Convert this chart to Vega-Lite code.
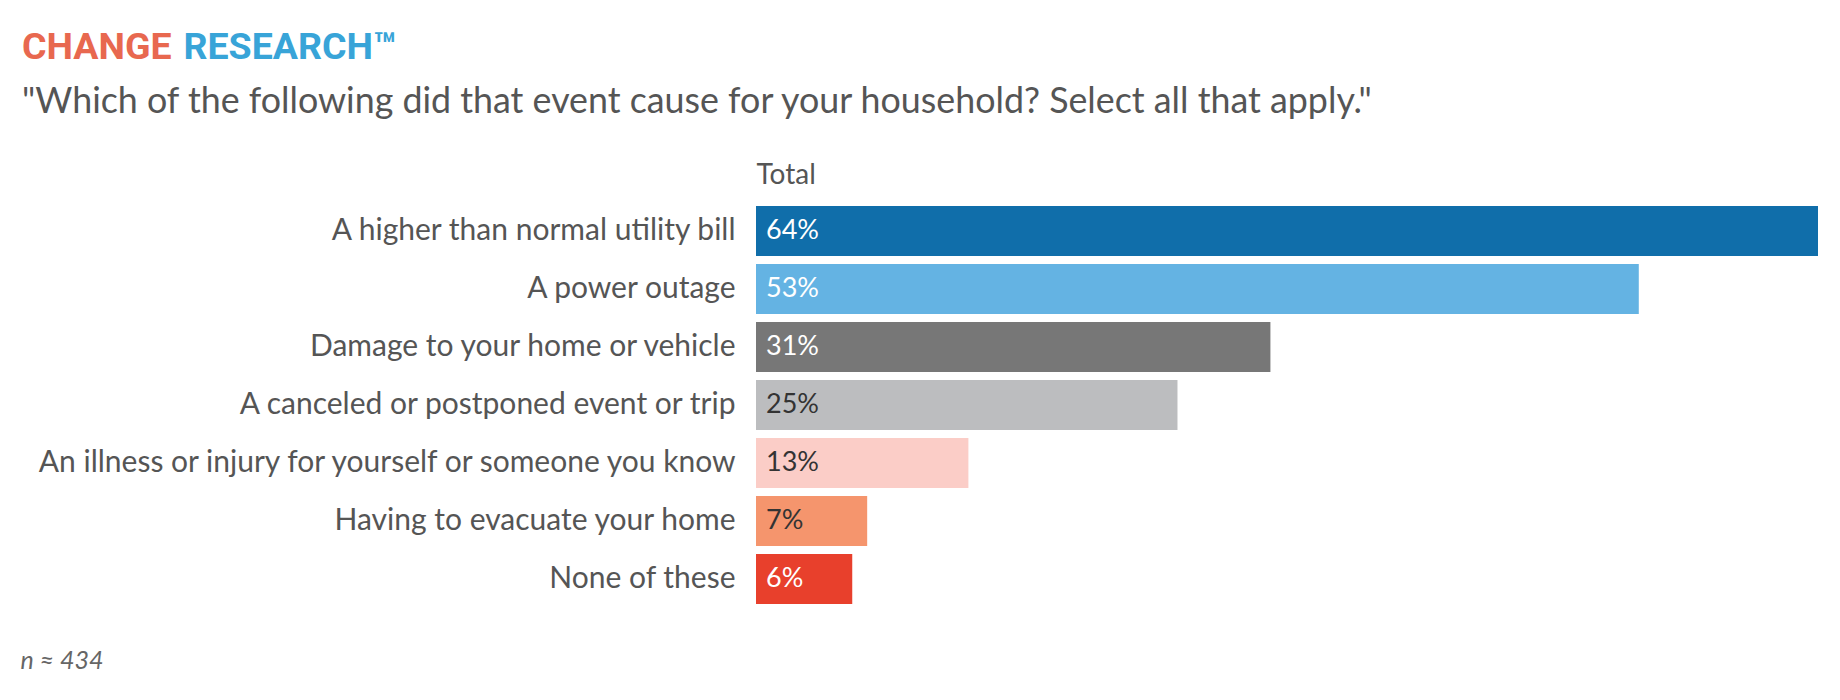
{
  "$schema": "https://vega.github.io/schema/vega-lite/v6.json",
  "autosize": {"type": "none"},
  "width": 1062,
  "height": 406,
  "padding": {"left": 756, "top": 202, "right": 22, "bottom": 92},
  "background": "white",
  "title": {
    "text": "CHANGE",
    "subtitle": "\"Which of the following did that event cause for your household? Select all that apply.\"",
    "anchor": "start",
    "frame": "group",
    "dx": -734,
    "dy": 91.7,
    "offset": 0,
    "font": "Roboto",
    "fontSize": 37.5,
    "fontWeight": "bold",
    "color": "#E8684F",
    "subtitleFont": "Lato",
    "subtitleFontSize": 35.8,
    "subtitleColor": "#555555",
    "subtitlePadding": 18
  },
  "data": {
    "values": [
      {"cause": "A higher than normal utility bill", "pct": 0.64},
      {"cause": "A power outage", "pct": 0.532},
      {"cause": "Damage to your home or vehicle", "pct": 0.31},
      {"cause": "A canceled or postponed event or trip", "pct": 0.254},
      {"cause": "An illness or injury for yourself or someone you know", "pct": 0.128},
      {"cause": "Having to evacuate your home", "pct": 0.067},
      {"cause": "None of these", "pct": 0.058}
    ]
  },
  "encoding": {
    "y": {
      "field": "cause",
      "type": "nominal",
      "sort": null,
      "scale": {"paddingInner": 0.14, "paddingOuter": 0.07},
      "axis": {
        "title": "RESEARCH™",
        "titleX": -573,
        "titleY": -144,
        "titleAngle": 0,
        "titleAlign": "left",
        "titleBaseline": "alphabetic",
        "titleFont": "Roboto",
        "titleFontSize": 37.5,
        "titleFontWeight": "bold",
        "titleColor": "#38A4D8",
        "labelFont": "Lato",
        "labelFontSize": 30,
        "labelColor": "#555555",
        "labelPadding": 21,
        "labelLimit": 0,
        "ticks": false,
        "domain": false,
        "grid": false
      }
    }
  },
  "layer": [
    {
      "mark": {"type": "bar"},
      "encoding": {
        "x": {
          "field": "pct",
          "type": "quantitative",
          "scale": {"domain": [0, 0.64], "nice": false},
          "axis": {
            "orient": "top",
            "title": "Total",
            "titleFont": "Lato",
            "titleFontSize": 28,
            "titleFontWeight": "normal",
            "titleColor": "#555555",
            "titleAnchor": "start",
            "titleAlign": "left",
            "titleBaseline": "alphabetic",
            "titleX": 0,
            "titleY": -19,
            "labels": false,
            "ticks": false,
            "domain": false,
            "grid": false
          }
        },
        "color": {
          "field": "cause",
          "type": "nominal",
          "sort": null,
          "legend": null,
          "scale": {
            "domain": [
              "A higher than normal utility bill",
              "A power outage",
              "Damage to your home or vehicle",
              "A canceled or postponed event or trip",
              "An illness or injury for yourself or someone you know",
              "Having to evacuate your home",
              "None of these"
            ],
            "range": ["#106EAA", "#64B3E3", "#777777", "#BCBDBF", "#FBCDC7", "#F5956D", "#E8402C"]
          }
        }
      }
    },
    {
      "mark": {"type": "text", "align": "left", "baseline": "middle", "dx": 10, "font": "Lato", "fontSize": 27},
      "encoding": {
        "x": {
          "datum": 0,
          "type": "quantitative",
          "axis": {
            "orient": "bottom",
            "title": "n ≈ 434",
            "titleFont": "Lato",
            "titleFontSize": 25,
            "titleFontStyle": "italic",
            "titleFontWeight": "normal",
            "titleColor": "#666666",
            "titleAlign": "left",
            "titleAnchor": "start",
            "titleBaseline": "alphabetic",
            "titleX": -736,
            "titleY": 60,
            "labels": false,
            "ticks": false,
            "domain": false,
            "grid": false
          }
        },
        "text": {"field": "pct", "type": "quantitative", "format": ".0%"},
        "color": {
          "field": "cause",
          "type": "nominal",
          "sort": null,
          "legend": null,
          "scale": {
            "domain": [
              "A higher than normal utility bill",
              "A power outage",
              "Damage to your home or vehicle",
              "A canceled or postponed event or trip",
              "An illness or injury for yourself or someone you know",
              "Having to evacuate your home",
              "None of these"
            ],
            "range": ["#FFFFFF", "#FFFFFF", "#FFFFFF", "#333333", "#333333", "#333333", "#FFFFFF"]
          }
        }
      }
    }
  ],
  "resolve": {"scale": {"color": "independent"}, "axis": {"x": "independent"}},
  "config": {"view": {"stroke": null}}
}
